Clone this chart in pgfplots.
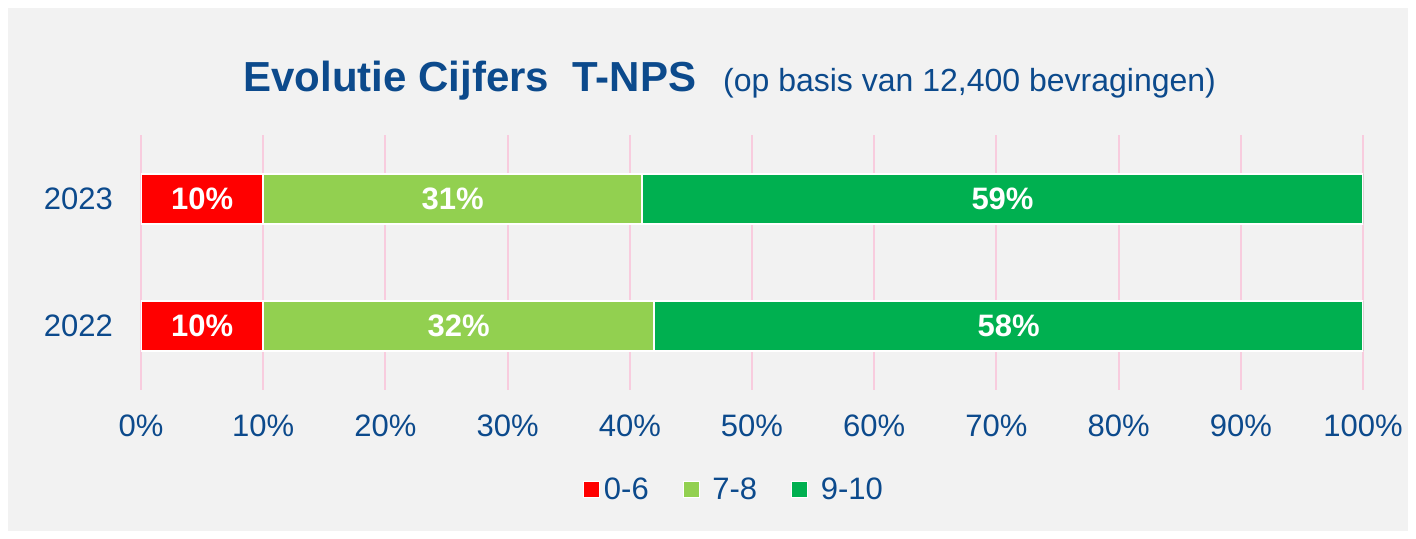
\documentclass[border=0pt]{standalone}
\usepackage{fontspec}
\setmainfont{Liberation Sans}
\usepackage{pgfplots}
\pgfplotsset{compat=1.18}
\definecolor{txtblue}{RGB}{12,74,140}
\definecolor{bg}{RGB}{242,242,242}
\definecolor{gridpink}{RGB}{248,204,222}
\definecolor{lowred}{RGB}{255,0,0}
\definecolor{midgreen}{RGB}{146,208,80}
\definecolor{highgreen}{RGB}{0,176,80}

\begin{document}
\begin{tikzpicture}
% 1px = 0.5pt
\fill[white] (0,0) rectangle (708pt,269.5pt);
\fill[bg] (4pt,4pt) rectangle (704pt,265.5pt);
\node[anchor=base west, text=txtblue, inner sep=0pt] at (121.5pt,223.5pt)
  {\fontsize{21}{25}\selectfont\bfseries Evolutie Cijfers\ \ T-NPS\hspace{13.5pt}\fontsize{16}{19}\selectfont\mdseries (op basis van 12,400 bevragingen)};
\begin{axis}[
  at={(70.5pt,74.5pt)}, anchor=south west,
  scale only axis, width=611pt, height=127.5pt,
  xbar stacked, bar width=25pt,
  xmin=0, xmax=100, ymin=-0.5, ymax=1.5,
  xtick={0,10,...,100},
  ytick={0,1}, yticklabels={2022,2023},
  xmajorgrids, grid style={gridpink, line width=1pt},
  axis line style={draw=none}, major tick length=0pt,
  tick label style={text=txtblue, font=\fontsize{15.5}{18}\selectfont},
  xticklabel={\pgfmathprintnumber[assume math mode=true]{\tick}\%},
  xticklabel style={yshift=-9pt},
  yticklabel style={xshift=-10.5pt},
  every axis plot/.append style={draw=white, line width=1pt},
  point meta=rawx,
  nodes near coords={\pgfmathprintnumber[assume math mode=true]{\pgfplotspointmeta}\%},
  every node near coord/.append style={anchor=center,
    text=white, font=\fontsize{15.5}{18}\selectfont\bfseries},
  legend columns=3,
  legend image code/.code={\draw[#1, draw=white, line width=0.5pt] (0pt,-4pt) rectangle (8pt,4pt);},
  legend style={at={(0.486,-0.392)}, anchor=center, draw=none, fill=none,
    text=txtblue, font=\fontsize{15.5}{18}\selectfont,
    /tikz/every even column/.append style={column sep=15pt}},
]
\addplot[fill=lowred] coordinates {(10,0) (10,1)};
\addlegendentry{0-6}
\addplot[fill=midgreen] coordinates {(32,0) (31,1)};
\addlegendentry{\ 7-8}
\addplot[fill=highgreen] coordinates {(58,0) (59,1)};
\addlegendentry{\ 9-10}
\end{axis}
\end{tikzpicture}
\end{document}
